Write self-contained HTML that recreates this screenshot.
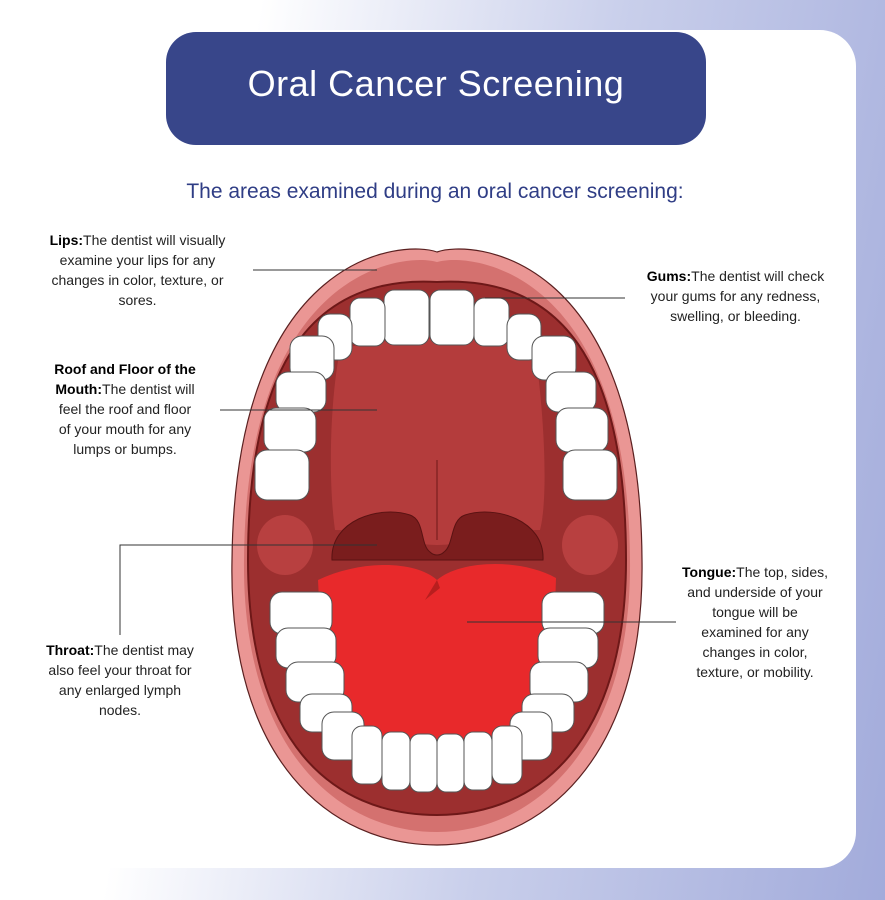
<!DOCTYPE html>
<html><head><meta charset="utf-8"><style>
html,body{margin:0;padding:0}
body{width:885px;height:900px;position:relative;overflow:hidden;background:linear-gradient(100deg,#ffffff 25%,#c9cfeb 60%,#a2abdb 100%);font-family:"Liberation Sans",sans-serif}
.card{position:absolute;left:12px;top:30px;width:844px;height:838px;background:#fff;border-radius:36px}
.title{position:absolute;left:166px;top:32px;width:540px;height:113px;background:#38468a;border-radius:30px;color:#fff;font-size:36px;text-align:center;line-height:103px;letter-spacing:0.5px}
.sub{position:absolute;left:0;width:870px;top:180px;text-align:center;color:#2f3d85;font-size:21px}
.t{position:absolute;font-size:14px;line-height:20px;color:#222;text-align:center;white-space:nowrap}
.t b{color:#000}
svg{position:absolute;left:0;top:0}
</style></head><body>
<div class="card"></div>
<div class="title">Oral Cancer Screening</div>
<div class="sub">The areas examined during an oral cancer screening:</div>
<div class="t" style="left:30px;top:230px;width:215px"><b>Lips:</b>The dentist will visually<br>examine your lips for any<br>changes in color, texture, or<br>sores.</div>
<div class="t" style="left:628px;top:266px;width:215px"><b>Gums:</b>The dentist will check<br>your gums for any redness,<br>swelling, or bleeding.</div>
<div class="t" style="left:35px;top:359px;width:180px"><b>Roof and Floor of the<br>Mouth:</b>The dentist will<br>feel the roof and floor<br>of your mouth for any<br>lumps or bumps.</div>
<div class="t" style="left:30px;top:640px;width:180px"><b>Throat:</b>The dentist may<br>also feel your throat for<br>any enlarged lymph<br>nodes.</div>
<div class="t" style="left:670px;top:562px;width:170px"><b>Tongue:</b>The top, sides,<br>and underside of your<br>tongue will be<br>examined for any<br>changes in color,<br>texture, or mobility.</div>
<svg width="885" height="900" viewBox="0 0 885 900">
<path d="M437,252 C470,240 640,250 642,560 C645,760 540,845 437,845 C330,845 228,760 232,560 C235,250 405,240 437,252 Z" fill="#ea9694" stroke="#5a2020" stroke-width="1.2"/>
<path d="M437,262 C470,252 628,268 630,560 C632,745 535,832 437,832 C335,832 242,745 244,560 C246,268 405,252 437,262 Z" fill="#d4716f"/>
<path d="M437,282 C560,275 626,360 626,560 C626,740 540,815 437,815 C330,815 248,740 248,560 C248,360 315,275 437,282 Z" fill="#9c2f2f" stroke="#6e1818" stroke-width="2"/>
<path d="M340,350 C380,335 500,335 535,350 C545,420 548,500 540,530 C500,530 470,545 437,545 C405,545 375,530 335,530 C328,480 330,400 340,350 Z" fill="#b43c3c"/>
<ellipse cx="285" cy="545" rx="28" ry="30" fill="#b84040"/>
<ellipse cx="590" cy="545" rx="28" ry="30" fill="#b84040"/>
<path d="M332,560 C330,520 380,505 410,515 C425,520 420,545 430,552 C434,556 440,556 444,552 C454,545 450,520 465,515 C495,505 545,520 543,560 Z" fill="#7a1d1d" stroke="#5a1212" stroke-width="1"/>
<path d="M437,460 L437,540" stroke="#6e1818" stroke-width="1"/>
<path d="M318,580 C360,560 415,560 437,580 C460,560 520,558 556,578 L552,700 C545,760 495,772 437,772 C378,772 330,760 324,700 Z" fill="#e8292b"/>
<path d="M437,580 L425,600 L440,588" fill="#b81e1e"/>
<g fill="#fff" stroke="#555" stroke-width="1">
<rect x="384" y="290" width="45" height="55" rx="10"/>
<rect x="430" y="290" width="44" height="55" rx="10"/>
<rect x="350" y="298" width="35" height="48" rx="10"/>
<rect x="474" y="298" width="35" height="48" rx="10"/>
<rect x="318" y="314" width="34" height="46" rx="12"/>
<rect x="507" y="314" width="34" height="46" rx="12"/>
<rect x="290" y="336" width="44" height="44" rx="12"/>
<rect x="532" y="336" width="44" height="44" rx="12"/>
<rect x="276" y="372" width="50" height="40" rx="12"/>
<rect x="546" y="372" width="50" height="40" rx="12"/>
<rect x="264" y="408" width="52" height="44" rx="12"/>
<rect x="556" y="408" width="52" height="44" rx="12"/>
<rect x="255" y="450" width="54" height="50" rx="12"/>
<rect x="563" y="450" width="54" height="50" rx="12"/>
<rect x="270" y="592" width="62" height="42" rx="12"/>
<rect x="542" y="592" width="62" height="42" rx="12"/>
<rect x="276" y="628" width="60" height="40" rx="12"/>
<rect x="538" y="628" width="60" height="40" rx="12"/>
<rect x="286" y="662" width="58" height="40" rx="12"/>
<rect x="530" y="662" width="58" height="40" rx="12"/>
<rect x="300" y="694" width="52" height="38" rx="12"/>
<rect x="522" y="694" width="52" height="38" rx="12"/>
<rect x="322" y="712" width="42" height="48" rx="12"/>
<rect x="510" y="712" width="42" height="48" rx="12"/>
<rect x="352" y="726" width="30" height="58" rx="10"/>
<rect x="492" y="726" width="30" height="58" rx="10"/>
<rect x="382" y="732" width="28" height="58" rx="9"/>
<rect x="464" y="732" width="28" height="58" rx="9"/>
<rect x="410" y="734" width="27" height="58" rx="9"/>
<rect x="437" y="734" width="27" height="58" rx="9"/>
</g>
<g stroke="#333" stroke-width="1" fill="none">
<line x1="253" y1="270" x2="377" y2="270"/>
<line x1="485" y1="298" x2="625" y2="298"/>
<line x1="220" y1="410" x2="377" y2="410"/>
<polyline points="120,635 120,545 377,545"/>
<line x1="467" y1="622" x2="676" y2="622"/>
</g>
</svg>
</body></html>
